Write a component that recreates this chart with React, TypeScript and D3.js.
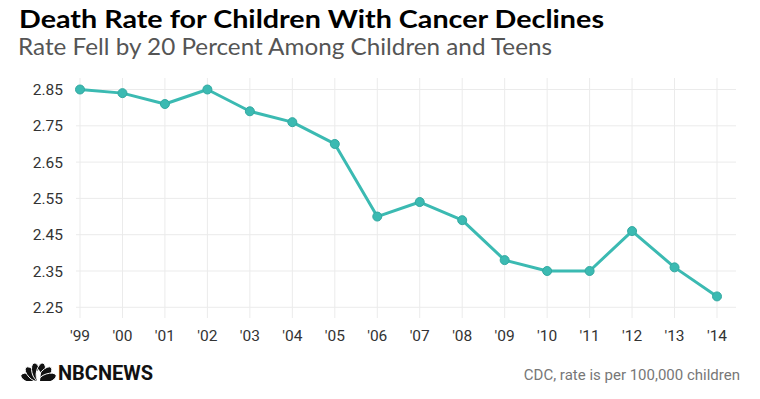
import { useEffect, useRef } from 'react'
import * as d3 from 'd3'

const years = ["'99", "'00", "'01", "'02", "'03", "'04", "'05", "'06", "'07", "'08", "'09", "'10", "'11", "'12", "'13", "'14"]
const rates = [2.85, 2.84, 2.81, 2.85, 2.79, 2.76, 2.70, 2.50, 2.54, 2.49, 2.38, 2.35, 2.35, 2.46, 2.36, 2.28]
const yTicks = [2.25, 2.35, 2.45, 2.55, 2.65, 2.75, 2.85]

const title = 'Death Rate for Children With Cancer Declines'
const subtitle = 'Rate Fell by 20 Percent Among Children and Teens'
const source = 'CDC, rate is per 100,000 children'

const teal = '#3bbab2'
const condensed = "'Liberation Sans Narrow', 'Arial Narrow', Roboto, sans-serif"

export default function App() {
  const svgRef = useRef<SVGSVGElement>(null)

  useEffect(() => {
    if (!svgRef.current) return
    const width = 760
    const height = 399

    const svg = d3.select(svgRef.current)
    svg.selectAll('*').remove()
    svg.attr('width', width).attr('height', height)

    svg.append('rect').attr('width', width).attr('height', height).attr('fill', '#fff')

    svg.append('text')
      .attr('x', 19).attr('y', 28)
      .attr('font-family', 'Lato, sans-serif').attr('font-weight', 700)
      .attr('font-size', 25.5).attr('fill', '#000')
      .attr('textLength', 585).attr('lengthAdjust', 'spacingAndGlyphs')
      .text(title)

    svg.append('text')
      .attr('x', 18).attr('y', 55)
      .attr('font-family', 'Lato, sans-serif')
      .attr('font-size', 23.5).attr('fill', '#555')
      .attr('textLength', 534).attr('lengthAdjust', 'spacingAndGlyphs')
      .text(subtitle)

    const x = d3.scalePoint<string>().domain(years).range([80, 717])
    const y = d3.scaleLinear().domain([2.25, 2.85]).range([307.3, 89.5])

    const top = 78
    const bottom = 318
    const left = 76
    const right = 736

    // grid
    const grid = svg.append('g').attr('stroke', '#ebebeb').attr('stroke-width', 1)
    grid.selectAll('.vg').data(years).join('line')
      .attr('x1', d => x(d)!).attr('x2', d => x(d)!)
      .attr('y1', top).attr('y2', bottom)
    grid.selectAll('.hg').data(yTicks).join('line')
      .attr('x1', left).attr('x2', right)
      .attr('y1', d => y(d)).attr('y2', d => y(d))

    svg.append('g').selectAll('text').data(yTicks).join('text')
      .attr('x', 63).attr('y', d => y(d) + 5.5)
      .attr('text-anchor', 'end')
      .attr('font-family', condensed).attr('font-size', 15.5).attr('fill', '#333')
      .text(d => d.toFixed(2))

    svg.append('g').selectAll('text').data(years).join('text')
      .attr('x', d => x(d)!).attr('y', 341)
      .attr('text-anchor', 'middle')
      .attr('font-family', condensed).attr('font-size', 15.5).attr('fill', '#333')
      .text(d => d)

    const line = d3.line<number>()
      .x((_, i) => x(years[i])!)
      .y(d => y(d))

    svg.append('path')
      .datum(rates)
      .attr('d', line)
      .attr('fill', 'none')
      .attr('stroke', teal)
      .attr('stroke-width', 3)
      .attr('stroke-linejoin', 'round')

    svg.append('g').selectAll('circle').data(rates).join('circle')
      .attr('cx', (_, i) => x(years[i])!)
      .attr('cy', d => y(d))
      .attr('r', 4.5)
      .attr('fill', teal)
      .attr('stroke', '#33a9a1')
      .attr('stroke-width', 1)

    // NBC peacock (simplified)
    const logo = svg.append('g').attr('transform', 'translate(38.5,381)')
    const angles = [-72, -43, -14, 14, 43, 72]
    logo.selectAll('ellipse').data(angles).join('ellipse')
      .attr('cx', 0).attr('cy', -9.5)
      .attr('rx', 4.3).attr('ry', 9)
      .attr('transform', d => `rotate(${d})`)
      .attr('fill', '#111')
      .attr('stroke', '#fff')
      .attr('stroke-width', 0.9)
    logo.append('path')
      .attr('d', 'M-2.5,-8 L0,-12 L2.5,-8 L1.5,0 L-1.5,0 Z')
      .attr('fill', '#fff')
    logo.append('rect')
      .attr('x', -20).attr('y', 0).attr('width', 40).attr('height', 10)
      .attr('fill', '#fff')

    svg.append('text')
      .attr('x', 58).attr('y', 380)
      .attr('font-family', condensed).attr('font-weight', 700)
      .attr('font-size', 19.5).attr('fill', '#111')
      .attr('textLength', 95).attr('lengthAdjust', 'spacingAndGlyphs')
      .text('NBCNEWS')

    svg.append('text')
      .attr('x', 740).attr('y', 380)
      .attr('text-anchor', 'end')
      .attr('font-family', condensed).attr('font-size', 15).attr('fill', '#777')
      .text(source)
  }, [])

  return (
    <div style={{ margin: -8 }}>
      <svg ref={svgRef} style={{ display: 'block' }} />
    </div>
  )
}
